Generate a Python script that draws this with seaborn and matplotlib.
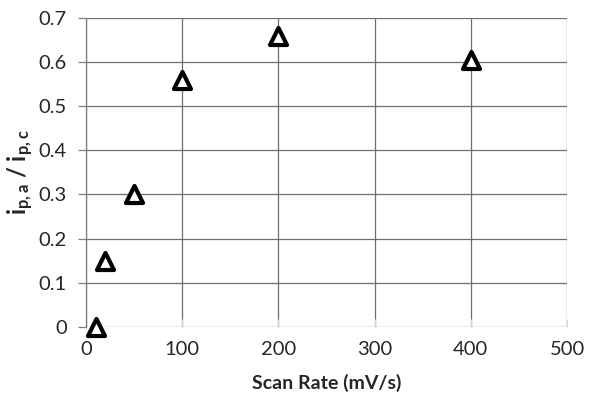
import matplotlib
matplotlib.use("Agg")
import matplotlib.pyplot as plt
import seaborn as sns
import pandas as pd

scan_rate = [10, 20, 50, 100, 200, 400]
ratio = [0.0, 0.15, 0.30, 0.56, 0.66, 0.605]
x_ticks = [0, 100, 200, 300, 400, 500]
y_ticks = [0, 0.1, 0.2, 0.3, 0.4, 0.5, 0.6, 0.7]
y_tick_labels = ["0", "0.1", "0.2", "0.3", "0.4", "0.5", "0.6", "0.7"]

sns.set_theme(style="white")
plt.rcParams["font.family"] = ["Lato", "DejaVu Sans"]
plt.rcParams["mathtext.fontset"] = "custom"
plt.rcParams["mathtext.bf"] = "Lato:bold"
plt.rcParams["mathtext.rm"] = "Lato"
plt.rcParams["mathtext.it"] = "Lato:bold"

df = pd.DataFrame({"scan": scan_rate, "ratio": ratio})

fig = plt.figure(figsize=(6.02, 4.07), dpi=100)
ax = fig.add_axes([0.143, 0.197, 0.799, 0.759])

sns.scatterplot(data=df, x="scan", y="ratio", ax=ax, marker="^", s=150,
                facecolor="white", edgecolor="black", linewidth=3, zorder=5,
                clip_on=False)

ax.set_xlim(0, 500)
ax.set_ylim(0, 0.7)
ax.set_xticks(x_ticks)
ax.set_yticks(y_ticks)
ax.set_yticklabels(y_tick_labels)
ax.grid(True, color="#6e6e6e", linewidth=0.9)
ax.set_axisbelow(True)

for side in ["top", "right", "bottom"]:
    ax.spines[side].set_visible(False)
ax.spines["left"].set_color("#7f7f7f")
ax.spines["left"].set_linewidth(0.9)

ax.tick_params(axis="y", which="major", length=6, width=0.9, color="#7f7f7f",
               direction="out", left=True, labelsize=14.5, pad=8, labelcolor="#262626")
ax.tick_params(axis="x", which="major", length=6, width=0.9, color="#d9d9d9",
               direction="in", bottom=True, labelsize=14.5, pad=10, labelcolor="#262626")

ax.set_xlabel("Scan Rate (mV/s)", fontsize=14, fontweight="bold", labelpad=12)
ax.set_ylabel(r"$\mathbf{i_{p,a}}$ / $\mathbf{i_{p,c}}$", fontsize=17,
              fontweight="bold", labelpad=2)

fig.savefig("out.png", dpi=100)
